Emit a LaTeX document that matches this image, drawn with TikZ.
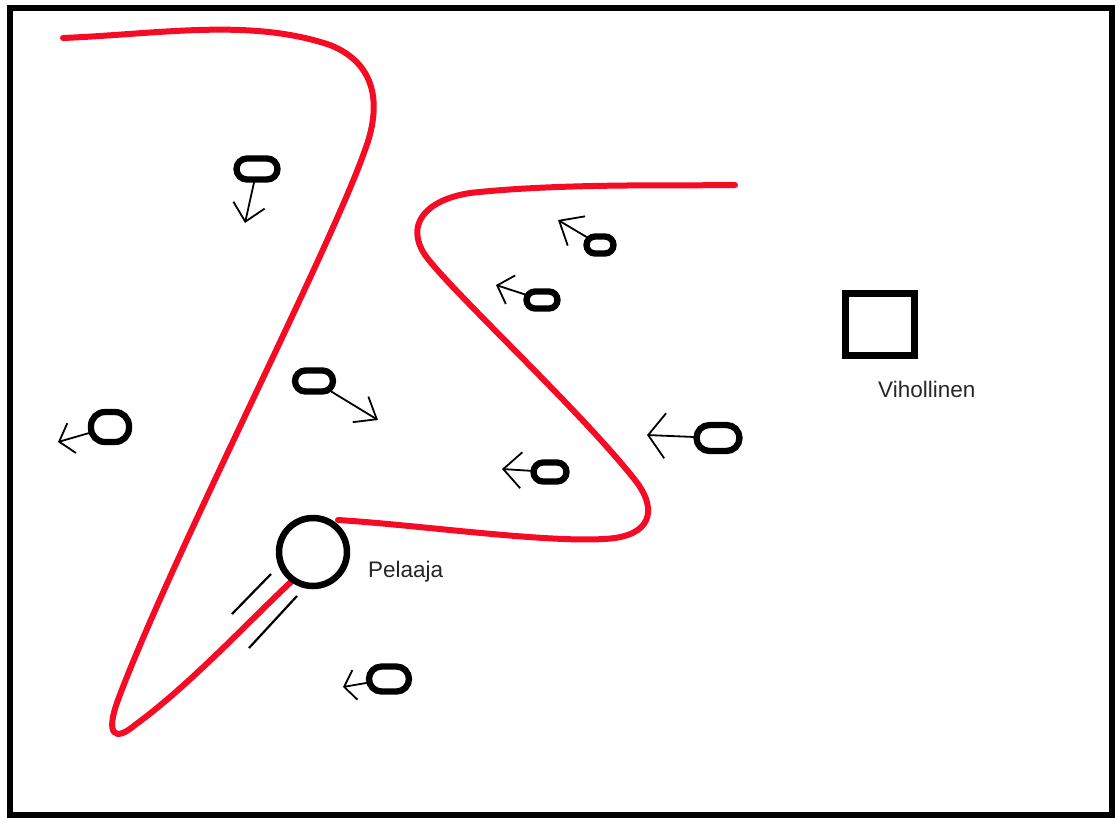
\documentclass[tikz,border=0pt]{standalone}
\usepackage{fontspec}
\setmainfont{Liberation Sans}
\usetikzlibrary{arrows.meta}
\definecolor{pathred}{RGB}{245,12,36}
\tikzset{
  redpath/.style={draw=pathred, line width=6pt, line cap=round},
  enemy/.style={draw=black, line width=6.3pt, fill=white, inner sep=0pt, outer sep=0pt},
  movearrow/.style={line width=1.8pt},
  speedline/.style={line width=2.2pt},
  label/.style={font=\fontsize{22.5}{26}\selectfont, text=black!85, inner sep=0pt, anchor=west},
}
\begin{document}
\begin{tikzpicture}[x=1pt,y=-1pt]
\useasboundingbox (0,0) rectangle (1115,817);
\fill[white] (0,0) rectangle (1115,817);
\draw[line width=6pt] (10,8) rectangle (1112,815);

% red path coordinates
\coordinate (r1s) at (63,38);
\coordinate (r1e) at (293,580);
\coordinate (r2s) at (338,520);
\coordinate (r2e) at (735,185);

\draw[redpath] (r1s) .. controls (160,34) and (250,18) .. (330,45)
  .. controls (380,65) and (380,110) .. (365,150)
  .. controls (330,250) and (170,560) .. (118,700)
  .. controls (105,735) and (115,742) .. (135,725)
  .. controls (190,685) and (250,620) .. (r1e);
\draw[redpath] (r2s) .. controls (420,525) and (560,545) .. (615,538)
  .. controls (655,532) and (655,505) .. (635,480)
  .. controls (580,410) and (450,290) .. (425,255)
  .. controls (405,225) and (425,200) .. (470,193)
  .. controls (560,183) and (680,186) .. (r2e);

% player
\node[circle, draw=black, line width=6.5pt, fill=white, minimum size=68pt, inner sep=0pt] (player) at (313,552) {};
\node[label] (plabel) at (368,572) {Pelaaja};
\coordinate (s1a) at (232,614); \coordinate (s1b) at (271,574);
\coordinate (s2a) at (249,648); \coordinate (s2b) at (297,596);
\draw[speedline] (s1a) -- (s1b);
\draw[speedline] (s2a) -- (s2b);

% enemy square
\node[draw=black, line width=6.7pt, minimum width=69pt, minimum height=62pt, inner sep=0pt] (enemybox) at (880,324.5) {};
\node[label] (elabel) at (878,389) {Vihollinen};

% small enemies
\node[enemy, minimum width=41pt, minimum height=21pt, rounded corners=10.5pt] (e1) at (257,169) {};
\node[enemy, minimum width=27pt, minimum height=17pt, rounded corners=8.5pt] (e2) at (600,245) {};
\node[enemy, minimum width=31pt, minimum height=17pt, rounded corners=8.5pt] (e3) at (542,300) {};
\node[enemy, minimum width=38pt, minimum height=21pt, rounded corners=10.5pt] (e4) at (314,381) {};
\node[enemy, minimum width=38pt, minimum height=30pt, rounded corners=14pt] (e5) at (110,427) {};
\node[enemy, minimum width=33pt, minimum height=19pt, rounded corners=9.5pt] (e6) at (550,472) {};
\node[enemy, minimum width=43pt, minimum height=26pt, rounded corners=13pt] (e7) at (718,438) {};
\node[enemy, minimum width=40pt, minimum height=25pt, rounded corners=12.5pt] (e8) at (389,679) {};

\coordinate (t1) at (245,223);
\coordinate (t2) at (558,220);
\coordinate (t3) at (496,285);
\coordinate (t4) at (378,420);
\coordinate (t5) at (58,442);
\coordinate (t6) at (502,469);
\coordinate (t7) at (647,435);
\coordinate (t8) at (343,687);

\draw[movearrow, -{Straight Barb[length=17pt,width=32pt]}] (e1) -- (t1);
\draw[movearrow, -{Straight Barb[length=20pt,width=34pt]}] (e2) -- (t2);
\draw[movearrow, -{Straight Barb[length=14pt,width=30pt]}] (e3) -- (t3);
\draw[movearrow, -{Straight Barb[length=19pt,width=30pt]}] (e4) -- (t4);
\draw[movearrow, -{Straight Barb[length=13pt,width=31pt]}] (e5) -- (t5);
\draw[movearrow, -{Straight Barb[length=18pt,width=36pt]}] (e6) -- (t6);
\draw[movearrow, -{Straight Barb[length=17pt,width=45pt]}] (e7) -- (t7);
\draw[movearrow, -{Straight Barb[length=11pt,width=30pt]}] (e8) -- (t8);
\end{tikzpicture}
\end{document}
